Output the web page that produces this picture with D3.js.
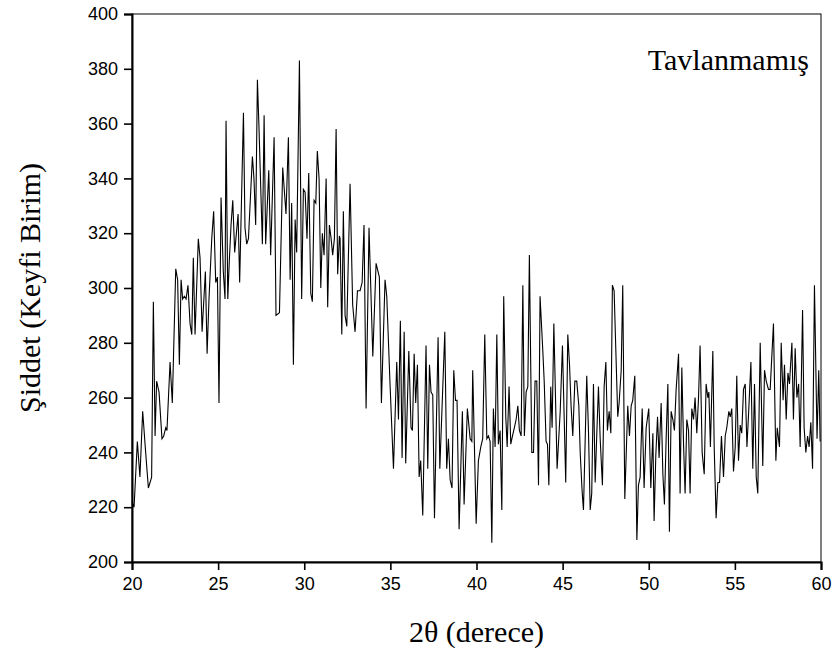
<!DOCTYPE html>
<html>
<head>
<meta charset="utf-8">
<script src="https://cdn.jsdelivr.net/npm/d3@7"></script>
<style>
  body { margin: 0; background: #fff; }
  svg { display: block; }
</style>
</head>
<body>
<div id="chart"></div>
<script>
// 2theta (degrees)
const theta = [
  20.00, 20.12, 20.31, 20.46, 20.62, 20.77, 20.95, 21.14, 21.24, 21.34, 21.43, 21.57, 21.74, 21.84, 21.96, 22.03,
  22.21, 22.34, 22.54, 22.65, 22.75, 22.85, 22.94, 23.04, 23.14, 23.25, 23.37, 23.47, 23.56, 23.66, 23.85, 23.95,
  24.07, 24.26, 24.36, 24.47, 24.63, 24.74, 24.86, 24.96, 25.05, 25.17, 25.30, 25.40, 25.46, 25.56, 25.65, 25.75,
  25.85, 25.96, 26.06, 26.16, 26.25, 26.47, 26.56, 26.66, 26.76, 26.99, 27.08, 27.18, 27.28, 27.37, 27.57, 27.67,
  27.76, 27.94, 28.05, 28.25, 28.36, 28.56, 28.75, 28.94, 29.08, 29.18, 29.27, 29.37, 29.47, 29.56, 29.72,
  29.85, 29.95, 30.05, 30.16, 30.26, 30.38, 30.47, 30.57, 30.67, 30.76, 30.86, 30.96, 31.05, 31.15, 31.27, 31.36,
  31.46, 31.56, 31.65, 31.75, 31.85, 31.94, 32.04, 32.08, 32.18, 32.27, 32.37, 32.47, 32.66, 32.81, 32.95, 33.09,
  33.24, 33.36, 33.47, 33.59, 33.76, 33.98, 34.17, 34.36, 34.48, 34.69, 34.79, 34.98, 35.18, 35.37, 35.47, 35.58,
  35.68, 35.80, 35.89, 36.07, 36.20, 36.28, 36.38, 36.47, 36.57, 36.67, 36.76, 36.88, 37.07, 37.17, 37.27, 37.36,
  37.46, 37.56, 37.77, 37.87, 38.16, 38.27, 38.37, 38.47, 38.58, 38.68, 38.78, 38.87, 38.99, 39.18, 39.28, 39.47,
  39.63, 39.73, 39.78, 39.98, 40.11, 40.25, 40.36, 40.48, 40.60, 40.69, 40.79, 40.89, 40.98, 41.08, 41.18, 41.27,
  41.37, 41.47, 41.58, 41.70, 41.78, 41.89, 41.99, 42.09, 42.20, 42.30, 42.40, 42.49, 42.59, 42.69, 42.78, 42.88,
  42.98, 43.07, 43.21, 43.31, 43.40, 43.50, 43.60, 43.69, 43.85, 43.93, 44.04, 44.12, 44.20, 44.31, 44.39, 44.49,
  44.68, 44.86, 44.99, 45.18, 45.30, 45.40, 45.49, 45.59, 45.71, 45.82, 45.94, 46.02, 46.13, 46.21, 46.40, 46.50,
  46.60, 46.69, 46.79, 46.89, 46.98, 47.08, 47.18, 47.31, 47.41, 47.51, 47.60, 47.70, 47.80, 47.89, 47.99, 48.09,
  48.20, 48.28, 48.40, 48.49, 48.61, 48.78, 48.88, 48.98, 49.07, 49.19, 49.31, 49.40, 49.50, 49.62, 49.73, 49.85,
  50.00, 50.12, 50.24, 50.31, 50.41, 50.51, 50.60, 50.72, 50.82, 50.91, 51.01, 51.11, 51.20, 51.30, 51.40, 51.49,
  51.59, 51.73, 51.82, 51.92, 52.02, 52.11, 52.21, 52.31, 52.40, 52.50, 52.60, 52.69, 52.79, 52.89, 52.98, 53.10,
  53.22, 53.33, 53.43, 53.49, 53.58, 53.72, 53.80, 53.91, 54.01, 54.11, 54.22, 54.34, 54.44, 54.53, 54.65, 54.73,
  54.82, 54.92, 55.02, 55.11, 55.21, 55.31, 55.40, 55.50, 55.60, 55.70, 55.81, 55.93, 56.04, 56.14, 56.24, 56.33,
  56.47, 56.62, 56.72, 56.82, 56.95, 57.05, 57.24, 57.38, 57.46, 57.59, 57.69, 57.80, 57.88, 57.98, 58.08, 58.17,
  58.31, 58.40, 58.50, 58.60, 58.70, 58.79, 58.93, 59.02, 59.12, 59.22, 59.31, 59.41, 59.51, 59.62, 59.77, 59.87,
  59.95
];

// intensity (arbitrary units)
const intensity = [
  222, 220, 244, 231, 255, 242, 227, 231, 295, 246, 266, 262, 245, 246, 249, 248,
  273, 258, 307, 303, 272, 303, 296, 297, 296, 301, 287, 283, 311, 283, 318, 311,
  284, 306, 276, 296, 318, 328, 302, 304, 258, 333, 306, 296, 361, 296, 310, 323,
  332, 313, 320, 327, 302, 364, 322, 316, 318, 348, 340, 323, 376, 359, 316, 363,
  316, 343, 312, 355, 290, 291, 344, 327, 355, 303, 331, 272, 325, 313, 383,
  296, 336, 335, 318, 342, 298, 295, 332, 331, 350, 340, 300, 320, 312, 340, 293,
  323, 318, 312, 318, 358, 305, 319, 318, 283, 328, 290, 286, 338, 294, 284, 299,
  299, 302, 323, 256, 322, 275, 309, 304, 258, 303, 297, 265, 234, 273, 252, 288,
  238, 284, 236, 277, 249, 248, 276, 258, 272, 231, 237, 217, 279, 234, 272, 262,
  261, 216, 282, 234, 284, 234, 245, 230, 227, 270, 259, 259, 212, 255, 221, 256,
  245, 244, 270, 214, 237, 242, 245, 283, 245, 246, 244, 207, 256, 242, 283, 243,
  248, 219, 297, 253, 242, 264, 243, 246, 249, 252, 257, 248, 246, 301, 246, 262,
  264, 312, 240, 240, 266, 266, 228, 297, 277, 266, 244, 243, 228, 264, 249, 287,
  234, 255, 279, 229, 283, 272, 257, 246, 266, 266, 257, 240, 226, 219, 268, 248,
  219, 225, 265, 229, 246, 264, 245, 228, 264, 273, 248, 255, 247, 301, 299, 277,
  253, 258, 270, 301, 223, 257, 246, 257, 259, 268, 208, 228, 231, 256, 227, 249,
  256, 227, 247, 215, 239, 253, 238, 258, 232, 221, 245, 265, 211, 255, 252, 248,
  263, 276, 225, 271, 243, 225, 252, 248, 225, 256, 252, 260, 247, 260, 279, 240,
  232, 265, 260, 262, 242, 277, 242, 216, 229, 229, 246, 231, 246, 249, 255, 253,
  256, 233, 242, 268, 237, 250, 247, 263, 265, 242, 256, 273, 234, 265, 231, 225,
  280, 235, 270, 266, 263, 263, 287, 237, 249, 242, 280, 259, 272, 252, 269, 265,
  280, 252, 278, 260, 265, 242, 292, 249, 240, 246, 242, 251, 234, 301, 245, 270,
  244
];

const xTicks = [20, 25, 30, 35, 40, 45, 50, 55, 60];
const yTicks = [200, 220, 240, 260, 280, 300, 320, 340, 360, 380, 400];
const label = "Tavlanmamış";
const xTitle = "2θ (derece)";
const yTitle = "Şiddet (Keyfi Birim)";

const width = 839,
  height = 658,
  margin = { top: 14, right: 18, bottom: 96, left: 132 };

const svg = d3.select("#chart")
  .append("svg")
  .attr("width", width)
  .attr("height", height);

const x = d3.scaleLinear()
  .domain([20, 60])
  .range([margin.left, width - margin.right]);

const y = d3.scaleLinear()
  .domain([200, 400])
  .range([height - margin.bottom, margin.top]);

const points = theta.map((t, i) => ({ t: t, v: intensity[i] }));

// frame (top and right are plain lines)
svg.append("rect")
  .attr("x", x(20))
  .attr("y", y(400))
  .attr("width", x(60) - x(20))
  .attr("height", y(200) - y(400))
  .attr("fill", "none")
  .attr("stroke", "#000")
  .attr("stroke-width", 1);

// x axis with minor ticks every 2.5
const xAxis = svg.append("g")
  .attr("transform", `translate(0,${y(200)})`);
xAxis.call(d3.axisBottom(x).tickValues(d3.range(20, 60.1, 2.5)).tickSize(5).tickFormat(""));
xAxis.call(d3.axisBottom(x).tickValues(xTicks).tickSize(8).tickPadding(7).tickFormat(d3.format("d")));

// y axis with minor ticks every 4
const yAxis = svg.append("g")
  .attr("transform", `translate(${x(20)},0)`);
yAxis.call(d3.axisLeft(y).tickValues(d3.range(200, 400.1, 4)).tickSize(5).tickFormat(""));
yAxis.call(d3.axisLeft(y).tickValues(yTicks).tickSize(8).tickPadding(6).tickFormat(d3.format("d")));

svg.selectAll(".domain")
  .attr("stroke-width", 2);
svg.selectAll(".tick line")
  .attr("stroke-width", 1.6);
svg.selectAll(".tick text")
  .attr("font-family", "Liberation Sans, Arial, sans-serif")
  .attr("font-size", 18)
  .attr("fill", "#000");

// data line
svg.append("path")
  .datum(points)
  .attr("fill", "none")
  .attr("stroke", "#000")
  .attr("stroke-width", 1.1)
  .attr("stroke-linejoin", "miter")
  .attr("d", d3.line().x(d => x(d.t)).y(d => y(d.v)));

// texts
svg.append("text")
  .attr("x", x(60) - 12)
  .attr("y", y(400) + 56)
  .attr("text-anchor", "end")
  .attr("font-family", "Liberation Serif, Times New Roman, serif")
  .attr("font-size", 30)
  .text(label);

svg.append("text")
  .attr("x", (x(20) + x(60)) / 2)
  .attr("y", height - 16)
  .attr("text-anchor", "middle")
  .attr("font-family", "Liberation Serif, Times New Roman, serif")
  .attr("font-size", 30)
  .text(xTitle);

svg.append("text")
  .attr("transform", `translate(40,${(y(200) + y(400)) / 2}) rotate(-90)`)
  .attr("text-anchor", "middle")
  .attr("font-family", "Liberation Serif, Times New Roman, serif")
  .attr("font-size", 30)
  .text(yTitle);
</script>
</body>
</html>
